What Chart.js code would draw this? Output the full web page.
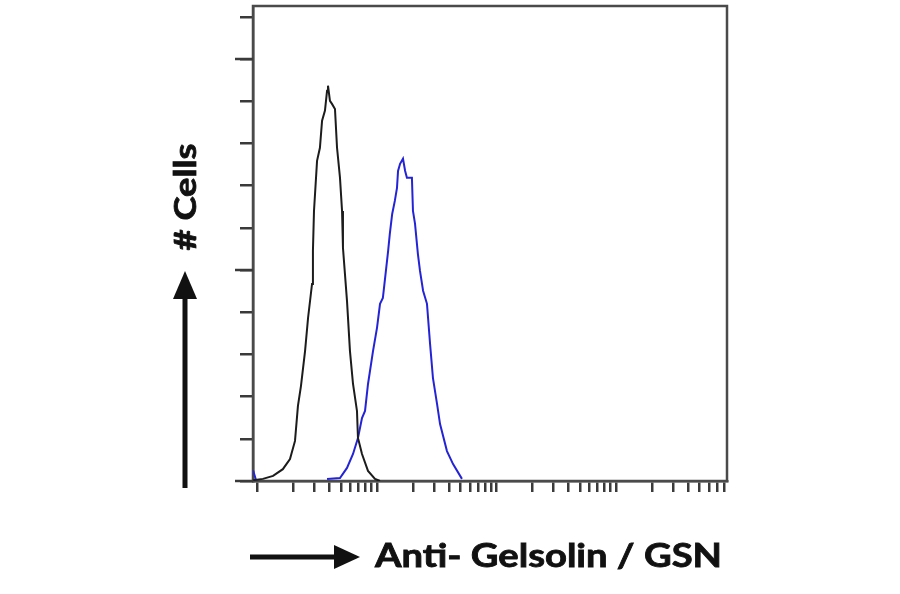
<!DOCTYPE html>
<html><head><meta charset="utf-8">
<script src="https://cdn.jsdelivr.net/npm/chart.js@4.4.1/dist/chart.umd.min.js"></script>
<style>html,body{margin:0;padding:0;background:#fff;}#wrap{width:900px;height:594px;position:relative;}canvas{display:block;}</style>
</head><body><div id="wrap"><canvas id="c" width="900" height="594"></canvas></div>
<script>
// Isotype control histogram (black)
const controlX = [0.92,1.11,1.35,1.63,1.87,2.06,2.18,2.31,2.50,2.65,2.86,2.91,2.97,3.15,3.33,3.47,3.67,3.82,3.89,4.04,4.20,4.45,4.63,4.90,5.10,5.19,5.61,5.94,6.30,6.80,6.93,7.49,8.41,9.62,10.6];
const controlY = [0.2,0.5,1.2,2.8,5.2,9.5,17.8,22.5,30.8,38.7,46.7,54.6,64.0,75.9,79.0,85.4,87.8,92.5,93.7,90.1,89.4,88.2,79.0,71.9,64.0,55.3,42.7,30.8,23.0,16.6,10.2,6.4,2.4,0.5,0];
// Anti-Gelsolin stained histogram (blue)
const stainedX = [0.92,0.97,1.0,3.82,4.90,5.61,6.30,6.93,7.49,7.94,8.41,9.26,10.0,10.6,11.2,11.7,12.4,12.8,13.4,14.1,14.7,15.0,15.6,16.5,17.2,17.8,19.6,20.0,20.8,22.0,22.9,24.3,26.2,27.8,29.4,31.8,33.7,38.5,43.3,51.4];
const stainedY = [2.5,0.3,null,0.5,0.7,3.1,6.4,10.2,14.9,16.6,23.0,30.8,36.3,42.0,43.4,48.2,54.6,58.6,63.3,66.4,69.5,73.5,75.2,76.4,73.5,71.9,71.9,64.0,61.0,53.8,49.8,45.1,42.0,32.5,24.4,18.3,13.5,7.1,4.0,0.5];
const yTickValues = [0,10,20,30,40,50,60,70,80,90,100,110];
const yMajorTicks = [0,50,100];
const xTickValues = [1,2,3,4,5,6,7,8,9,10,20,30,40,50,60,70,80,90,100,200,300,400,500,600,700,800,900,1000,2000,3000,4000,5000,6000,7000,8000];
const xAxisLabel = "Anti- Gelsolin / GSN";
const yAxisLabel = "# Cells";

const toPts = (xs, ys) => xs.map((x, i) => ({x: x, y: ys[i]}));

const framePlugin = {
  id: 'frame',
  beforeDatasetsDraw(chart) {
    const {ctx, chartArea: a} = chart;
    ctx.save();
    ctx.strokeStyle = '#4a4a4a';
    ctx.lineWidth = 2.5;
    ctx.strokeRect(a.left, a.top, a.right - a.left, a.bottom - a.top);
    ctx.restore();
  },
  afterDraw(chart) {
    const {ctx, chartArea: a} = chart;
    const ys = chart.scales.y;
    ctx.save();
    ctx.strokeStyle = '#3a3a3a';
    ctx.lineWidth = 2.5;
    yMajorTicks.forEach(v => {
      const py = Math.round(ys.getPixelForValue(v));
      ctx.beginPath();
      ctx.moveTo(a.left - 18, py);
      ctx.lineTo(a.left, py);
      ctx.stroke();
    });
    ctx.fillStyle = '#111';
    // Y arrow
    const ax = 185;
    ctx.fillRect(ax - 2.5, 296, 5, 192);
    ctx.beginPath();
    ctx.moveTo(ax, 271);
    ctx.lineTo(ax - 12, 299);
    ctx.lineTo(ax + 12, 299);
    ctx.closePath();
    ctx.fill();
    // Y label
    ctx.font = 'bold 31px Lato';
    let w = ctx.measureText(yAxisLabel).width;
    ctx.translate(196, 197);
    ctx.rotate(-Math.PI / 2);
    ctx.scale(107 / w, 1);
    ctx.textAlign = 'center';
    ctx.textBaseline = 'alphabetic';
    ctx.lineWidth = 0.8;
    ctx.strokeStyle = '#111';
    ctx.fillText(yAxisLabel, 0, 0);
    ctx.strokeText(yAxisLabel, 0, 0);
    ctx.restore();
    ctx.save();
    ctx.fillStyle = '#111';
    // X arrow
    const ay = 557;
    ctx.fillRect(250, ay - 2.5, 88, 5);
    ctx.beginPath();
    ctx.moveTo(360, ay);
    ctx.lineTo(334, ay - 12);
    ctx.lineTo(334, ay + 12);
    ctx.closePath();
    ctx.fill();
    // X label
    ctx.font = 'bold 32px Lato';
    w = ctx.measureText(xAxisLabel).width;
    ctx.translate(375, 567);
    ctx.scale(347 / w, 1);
    ctx.textAlign = 'left';
    ctx.textBaseline = 'alphabetic';
    ctx.lineWidth = 0.8;
    ctx.strokeStyle = '#111';
    ctx.fillText(xAxisLabel, 0, 0);
    ctx.strokeText(xAxisLabel, 0, 0);
    ctx.restore();
  }
};

new Chart(document.getElementById('c'), {
  type: 'line',
  data: {
    datasets: [
      {label: 'Control', data: toPts(controlX, controlY), borderColor: '#1c1c1c', borderWidth: 2, pointRadius: 0, tension: 0, fill: false, spanGaps: false},
      {label: 'Anti-Gelsolin', data: toPts(stainedX, stainedY), borderColor: '#2424d6', borderWidth: 2, pointRadius: 0, tension: 0, fill: false, spanGaps: false}
    ]
  },
  options: {
    responsive: false,
    animation: false,
    devicePixelRatio: 1,
    layout: {padding: {left: 233, top: 6, right: 173, bottom: 93}},
    plugins: {legend: {display: false}, tooltip: {enabled: false}},
    scales: {
      x: {
        type: 'logarithmic', min: 0.917, max: 8490, position: 'bottom',
        afterBuildTicks: s => { s.ticks = xTickValues.map(v => ({value: v})); },
        afterFit: s => { s.height = 20; },
        ticks: {display: false},
        grid: {drawOnChartArea: false, drawTicks: true, tickLength: 11, color: '#3a3a3a', lineWidth: 2.5},
        border: {display: true, color: '#4a4a4a', width: 2.5}
      },
      y: {
        type: 'linear', min: 0, max: 112.6,
        afterBuildTicks: s => { s.ticks = yTickValues.map(v => ({value: v})); },
        afterFit: s => { s.width = 20; },
        ticks: {display: false},
        grid: {drawOnChartArea: false, drawTicks: true, tickLength: 13, color: '#3a3a3a', lineWidth: 2.5},
        border: {display: true, color: '#4a4a4a', width: 2.5}
      }
    }
  },
  plugins: [framePlugin]
});
</script></body></html>
